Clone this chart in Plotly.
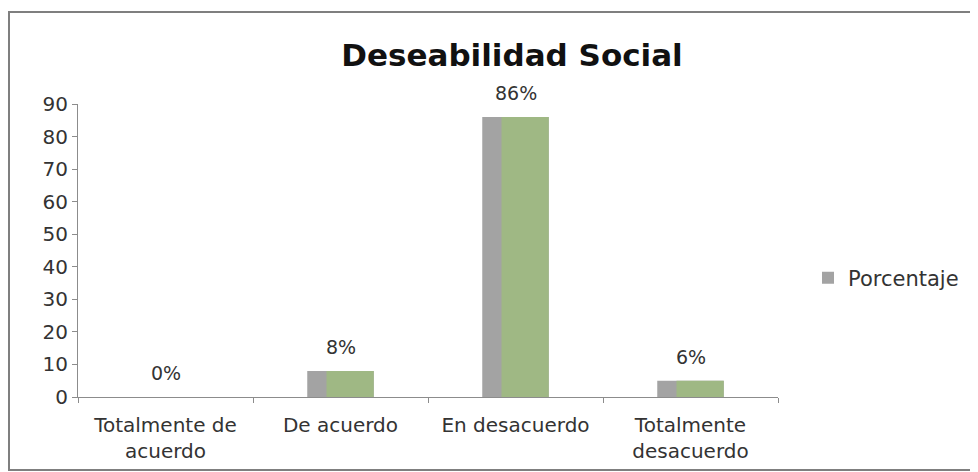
import plotly.graph_objects as go

categories = ["Totalmente de<br>acuerdo", "De acuerdo", "En desacuerdo", "Totalmente<br>desacuerdo"]
values = [0, 8, 86, 5]
labels = ["0%", "8%", "86%", "6%"]
series_name = "Porcentaje"
y_ticks = [0, 10, 20, 30, 40, 50, 60, 70, 80, 90]

FONT = "DejaVu Sans"
OFF = 8  # page body margin
W, H = 970, 464
L, R, T, B = 70, 200, 96, 75
pw, ph = W - L - R, H - T - B

def px_x(p):  # screenshot px -> paper
    return (p - OFF - L) / pw

def px_y(p):
    return (H - B - (p - OFF)) / ph

fig = go.Figure()
fig.add_trace(go.Bar(
    x=categories, y=values, name=series_name,
    marker=dict(color="#a3a3a3", line=dict(width=0)),
    width=0.38, showlegend=True, hoverinfo="x+y",
))
fig.add_trace(go.Bar(
    x=categories, y=values, name=series_name,
    marker=dict(color="#9fb884", line=dict(width=0)),
    width=0.27, offset=-0.08, showlegend=False, hoverinfo="skip",
))

for c, v, t in zip(categories, values, labels):
    fig.add_annotation(x=c, y=v, text=t, showarrow=False, yshift=24,
                       font=dict(family=FONT, size=19, color="#333333"))

fig.add_shape(type="rect", xref="paper", yref="paper",
              x0=px_x(9), x1=px_x(977), y0=px_y(470), y1=px_y(12),
              line=dict(color="#7f7f7f", width=2), fillcolor="rgba(0,0,0,0)", layer="below")

fig.update_layout(
    width=W, height=H,
    margin=dict(l=L, r=R, t=T, b=B, pad=0, autoexpand=False),
    paper_bgcolor="white", plot_bgcolor="white",
    barmode="overlay",
    title=dict(text="<b>Deseabilidad Social</b>", x=(512 - OFF) / W, xanchor="center",
               y=1 - (55 - OFF) / H, yanchor="middle",
               font=dict(family=FONT, size=31, color="#111111")),
    legend=dict(x=px_x(808), y=px_y(278), xanchor="left", yanchor="middle",
                font=dict(family=FONT, size=21, color="#333333"),
                bgcolor="rgba(0,0,0,0)", itemwidth=30),
    font=dict(family=FONT, color="#333333"),
)
fig.update_yaxes(range=[0, 90], tickvals=y_ticks, showgrid=False, zeroline=False,
                 showline=True, linecolor="#8c8c8c", linewidth=1,
                 ticks="outside", ticklen=5, tickcolor="#8c8c8c", automargin=False,
                 tickfont=dict(family=FONT, size=20, color="#333333"))
fig.update_xaxes(showgrid=False, showline=True, linecolor="#8c8c8c", linewidth=1,
                 ticks="outside", ticklen=5, tickcolor="#8c8c8c", tickson="boundaries",
                 ticklabelstandoff=10, automargin=False,
                 tickfont=dict(family=FONT, size=20, color="#333333"), tickangle=0)

fig.write_html("out.html")
